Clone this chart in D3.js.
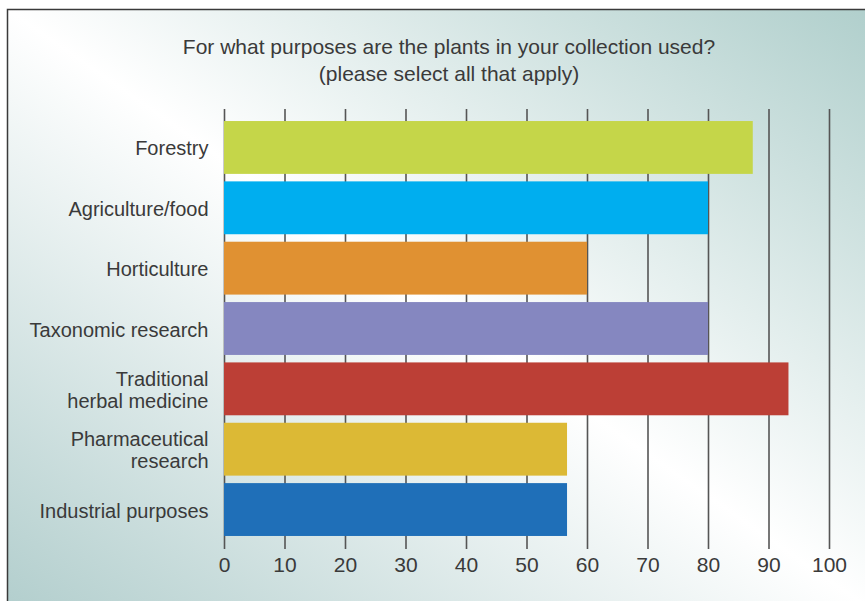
<!DOCTYPE html>
<html>
<head>
<meta charset="utf-8">
<script src="https://cdn.jsdelivr.net/npm/d3@7"></script>
<style>
  html, body { margin: 0; padding: 0; background: #fff; }
  svg { display: block; }
  text { font-family: "Liberation Sans", Arial, sans-serif; fill: #3a3a3a; }
</style>
</head>
<body>
<svg id="chart" width="865" height="601"></svg>
<script>
const categories = ["Forestry", "Agriculture/food", "Horticulture", "Taxonomic research",
  "Traditional\nherbal medicine", "Pharmaceutical\nresearch", "Industrial purposes"];
const values = [87.4, 80, 60, 80, 93.3, 56.7, 56.7];
const colors = ["#c5d649", "#00aeef", "#e09132", "#8587c0", "#bc3f36", "#dcb935", "#1f6fb8"];
const tickValues = [0, 10, 20, 30, 40, 50, 60, 70, 80, 90, 100];
const titleLines = ["For what purposes are the plants in your collection used?", "(please select all that apply)"];

const svg = d3.select("#chart");
const W = 865, H = 601;

// background gradient
const defs = svg.append("defs");
const grad = defs.append("linearGradient").attr("id", "bg")
  .attr("x1", "100%").attr("y1", "0%").attr("x2", "0%").attr("y2", "100%");
grad.append("stop").attr("offset", "0%").attr("stop-color", "#b0cfcc");
grad.append("stop").attr("offset", "50%").attr("stop-color", "#ffffff");
grad.append("stop").attr("offset", "100%").attr("stop-color", "#b2cecd");

svg.append("rect").attr("x", 7.5).attr("y", 9.5).attr("width", W).attr("height", H)
  .attr("fill", "url(#bg)").attr("stroke", "#3a3a3a").attr("stroke-width", 1.5);

// title
svg.append("g").selectAll("text").data(titleLines).join("text")
  .attr("x", 449).attr("y", (d, i) => 54 + i * 27)
  .attr("text-anchor", "middle").attr("font-size", 21).text(d => d);

const x = d3.scaleLinear().domain([0, 100]).range([224, 829]);
const y = d3.scaleBand().domain(categories).range([116.5, 540.5]).paddingInner(0.124).paddingOuter(0.075);

const gridTop = 109, gridBottom = 549;

// grid lines (with axis ticks)
const axis = d3.axisBottom(x).tickValues(tickValues).tickSize(gridBottom - gridTop);
const gAxis = svg.append("g").attr("transform", `translate(0,${gridTop})`).call(axis);
gAxis.select(".domain").remove();
gAxis.selectAll(".tick line").attr("stroke", "#555").attr("stroke-width", 1.6);
gAxis.selectAll(".tick text").attr("font-size", 21).attr("fill", "#444")
  .attr("font-family", "Liberation Sans, Arial, sans-serif")
  .attr("y", 572 - gridTop).attr("dy", 0);

// bars
svg.append("g").selectAll("rect").data(values).join("rect")
  .attr("x", x(0))
  .attr("y", (d, i) => y(categories[i]))
  .attr("width", d => x(d) - x(0))
  .attr("height", y.bandwidth())
  .attr("fill", (d, i) => colors[i]);

// category labels
const lab = svg.append("g").selectAll("text").data(categories).join("text")
  .attr("text-anchor", "end").attr("font-size", 20);
lab.each(function(d) {
  const lines = d.split("\n");
  const cy = y(d) + y.bandwidth() / 2;
  const t = d3.select(this);
  lines.forEach((ln, j) => {
    t.append("tspan").attr("x", 208.5)
      .attr("y", cy + 8 + (j - (lines.length - 1) / 2) * 22.5)
      .text(ln);
  });
});
</script>
</body>
</html>
